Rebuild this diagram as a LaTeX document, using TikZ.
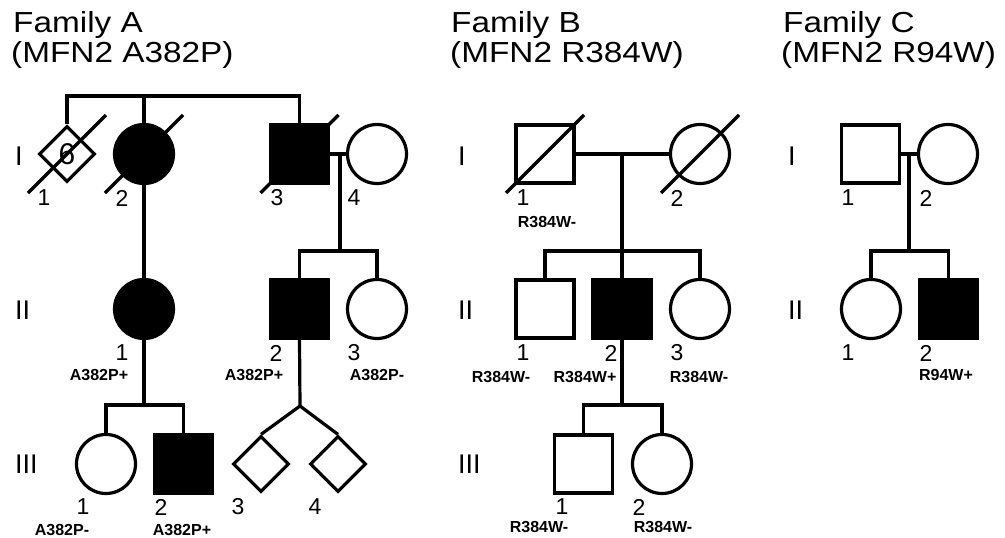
\documentclass[tikz,border=0pt]{standalone}
\usepackage{fontspec}
\setmainfont{Liberation Sans}
\newfontfamily\titlefont[FakeStretch=1.15]{Liberation Sans}
\usetikzlibrary{shapes.geometric}
\tikzset{
 ln/.style={line width=3.2pt},
 sq/.style={draw, line width=3.2pt, rectangle, minimum size=58pt, inner sep=0pt, fill=white},
 sqa/.style={sq, fill=black},
 ci/.style={draw, line width=3.2pt, circle, minimum size=59pt, inner sep=0pt, fill=white},
 cia/.style={ci, fill=black},
 di/.style={draw, line width=3.2pt, diamond, minimum size=56pt, inner sep=0pt, fill=white},
 num/.style={font=\fontsize{23}{23}\selectfont, inner sep=0pt},
 mut/.style={font=\bfseries\fontsize{16}{16}\selectfont, inner sep=0pt},
 gen/.style={font=\fontsize{27}{27}\selectfont, inner sep=0pt, anchor=west},
 ttl/.style={font=\titlefont\fontsize{29}{29}\selectfont, inner sep=0pt, anchor=base west}
}
\begin{document}
\begin{tikzpicture}[x=1pt,y=-1pt]
\useasboundingbox (0,0) rectangle (1005,538);
% titles
\node[ttl] (tA1) at (13,32) {Family A};
\node[ttl] (tA2) at (11,62) {(MFN2 A382P)};
\node[ttl] (tB1) at (451,32) {Family B};
\node[ttl] (tB2) at (450,62) {(MFN2 R384W)};
\node[ttl] (tC1) at (783,32) {Family C};
\node[ttl] (tC2) at (781,62) {(MFN2 R94W)};
% generation labels
\node[gen] (gA1) at (15,156) {I};
\node[gen] (gA2) at (15,310) {II};
\node[gen] (gA3) at (15,464) {III};
\node[gen] (gB1) at (458,156) {I};
\node[gen] (gB2) at (458,310) {II};
\node[gen] (gB3) at (458,464) {III};
\node[gen] (gC1) at (788,156) {I};
\node[gen] (gC2) at (788,310) {II};
% Family A
\node[di] (A1) at (67,154) {\fontsize{30}{30}\selectfont 6};
\node[cia] (A2) at (144,154) {};
\node[sqa] (A3) at (299.5,154) {};
\node[ci] (A4) at (377,154) {};
\node[cia] (A5) at (144,309) {};
\node[sqa] (A6) at (299.5,309) {};
\node[ci] (A7) at (377,309) {};
\node[ci] (A8) at (106,464) {};
\node[sqa] (A9) at (183.5,464) {};
\node[di] (A10) at (261,464) {};
\node[di] (A11) at (338,464) {};
\coordinate (Atop) at (144,96);
\coordinate (Amar) at (340,154);
\coordinate (Asib2) at (340,251);
\coordinate (Asib3) at (144,405);
\coordinate (Atw) at (300,406);
\draw[ln] (A1.north) |- (Atop) -| (A3.north);
\draw[ln] (A2.north) -- (Atop);
\draw[ln] (A3.east) -- (A4.west);
\draw[ln] (Amar) -- (Asib2);
\draw[ln] (A6.north) |- (Asib2) -| (A7.north);
\draw[ln] (A2.south) -- (A5.north);
\draw[ln] (A5.south) -- (Asib3);
\draw[ln] (A8.north) |- (Asib3) -| (A9.north);
\draw[ln] (A6.south) -- (Atw);
\draw[ln] (A10.north) -- (Atw) -- (A11.north);
% Family B
\node[sq] (B1) at (545,154) {};
\node[ci] (B2) at (700,154) {};
\node[sq] (B3) at (545,309) {};
\node[sqa] (B4) at (622,309) {};
\node[ci] (B5) at (700,309) {};
\node[sq] (B6) at (583.5,464) {};
\node[ci] (B7) at (662,464) {};
\coordinate (Bmar) at (622,154);
\coordinate (Bsib2) at (622,251);
\coordinate (Bsib3) at (622,405);
\draw[ln] (B1.east) -- (B2.west);
\draw[ln] (Bmar) -- (Bsib2);
\draw[ln] (B3.north) |- (Bsib2) -| (B5.north);
\draw[ln] (B4.north) -- (Bsib2);
\draw[ln] (B4.south) -- (Bsib3);
\draw[ln] (B6.north) |- (Bsib3) -| (B7.north);
% Family C
\node[sq] (C1) at (870.5,154) {};
\node[ci] (C2) at (948,154) {};
\node[ci] (C3) at (871,309) {};
\node[sqa] (C4) at (948.5,309) {};
\coordinate (Cmar) at (909,154);
\coordinate (Csib) at (909,251);
\draw[ln] (C1.east) -- (C2.west);
\draw[ln] (Cmar) -- (Csib);
\draw[ln] (C3.north) |- (Csib) -| (C4.north);
% deceased slashes
\foreach \n in {A1,A2,A3,B1,B2}
  \draw[ln] ([shift={(-39,39)}]\n.center) -- ([shift={(39,-39)}]\n.center);
% individual numbers
\node[num] (nA1) at (44,198) {1};
\node[num] (nA2) at (122,198) {2};
\node[num] (nA3) at (277,198) {3};
\node[num] (nA4) at (354,198) {4};
\node[num] (nA5) at (122,353) {1};
\node[num] (nA6) at (276,353) {2};
\node[num] (nA7) at (354,353) {3};
\node[num] (nA8) at (83,507) {1};
\node[num] (nA9) at (161,507) {2};
\node[num] (nA10) at (238,507) {3};
\node[num] (nA11) at (315,507) {4};
\node[num] (nB1) at (523,198) {1};
\node[num] (nB2) at (677,198) {2};
\node[num] (nB3) at (523,353) {1};
\node[num] (nB4) at (611,353) {2};
\node[num] (nB5) at (677,353) {3};
\node[num] (nB6) at (562,507) {1};
\node[num] (nB7) at (639,507) {2};
\node[num] (nC1) at (848,198) {1};
\node[num] (nC2) at (926,198) {2};
\node[num] (nC3) at (848,353) {1};
\node[num] (nC4) at (926,353) {2};
% mutation labels
\node[mut] (mA5) at (99,375) {A382P+};
\node[mut] (mA6) at (254,375) {A382P+};
\node[mut] (mA7) at (377,375) {A382P-};
\node[mut] (mA8) at (62,530) {A382P-};
\node[mut] (mA9) at (182,530) {A382P+};
\node[mut] (mB1) at (547,222) {R384W-};
\node[mut] (mB3) at (501,377) {R384W-};
\node[mut] (mB4) at (585,377) {R384W+};
\node[mut] (mB5) at (699,377) {R384W-};
\node[mut] (mB6) at (539,527) {R384W-};
\node[mut] (mB7) at (663,527) {R384W-};
\node[mut] (mC4) at (946,375) {R94W+};
\end{tikzpicture}
\end{document}
